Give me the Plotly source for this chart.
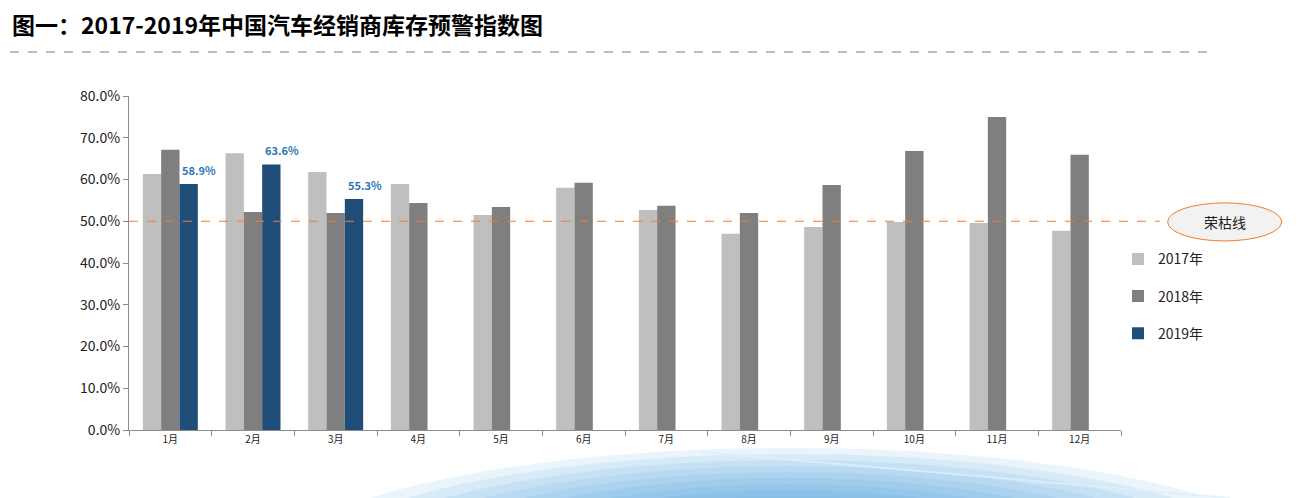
import plotly.graph_objects as go

months = ["1月", "2月", "3月", "4月", "5月", "6月", "7月", "8月", "9月", "10月", "11月", "12月"]
y2017 = [61.3, 66.3, 61.8, 58.9, 51.5, 58.0, 52.7, 47.0, 48.6, 49.8, 49.6, 47.7]
y2018 = [67.1, 52.2, 52.0, 54.4, 53.4, 59.2, 53.7, 52.0, 58.7, 66.8, 75.0, 65.9]
y2019 = [58.9, 63.6, 55.3, None, None, None, None, None, None, None, None, None]
threshold = 50.0

series = [
    ("2017年", y2017, "#BFBFBF"),
    ("2018年", y2018, "#7F7F7F"),
    ("2019年", y2019, "#1F4E79"),
]

FONT = "Noto Sans CJK SC"
fig = go.Figure()
for name, vals, color in series:
    fig.add_trace(go.Bar(
        x=months, y=[v / 100 if v is not None else None for v in vals],
        name=name, marker=dict(color=color, line=dict(width=0)),
        legendgroup=name,
    ))

# data labels for 2019
for m, v in zip(months, y2019):
    if v is not None:
        fig.add_annotation(x=m, y=v / 100, text=f"<b>{v:.1f}%</b>", showarrow=False,
                           xshift=29, yshift=14, font=dict(family=FONT, size=11, color="#2E75B6"))

# decorative soft blue glow at the bottom (page px -> paper coords)
def px_x(p):
    return (p - 129) / 992

def px_y(p):
    return (430 - p) / 334

glow_cx, glow_cy = 790, 570
for i in range(11):
    rx = 520 - i * 32
    ry = 122 - i * 6
    fig.add_shape(type="circle", xref="paper", yref="paper",
                  x0=px_x(glow_cx - rx), x1=px_x(glow_cx + rx),
                  y0=px_y(glow_cy + ry), y1=px_y(glow_cy - ry),
                  fillcolor="#4FA8E2", opacity=0.12, line=dict(width=0), layer="below")
fig.add_shape(type="line", xref="paper", yref="paper", x0=px_x(700), y0=px_y(452), x1=px_x(1230), y1=px_y(498),
              line=dict(color="#DDF0FD", width=2), opacity=0.8, layer="below")

# 荣枯线
fig.add_shape(type="line", xref="paper", yref="y", x0=0, x1=1.039, y0=threshold / 100, y1=threshold / 100,
              line=dict(color="#ED7D31", width=1.2, dash="dash"))
fig.add_shape(type="circle", xref="paper", yref="paper", x0=1.047, x1=1.162, y0=0.566, y1=0.680,
              fillcolor="#F2F2F2", line=dict(color="#ED7D31", width=1))
fig.add_annotation(xref="paper", yref="paper", x=1.1045, y=0.623, xanchor="center", yanchor="middle",
                   text="荣枯线", showarrow=False,
                   font=dict(family=FONT, size=14, color="#222222"))

# title and dashed divider
fig.add_annotation(xref="paper", yref="paper", x=-0.12, y=1.216, xanchor="left", yanchor="middle",
                   text="<b>图一：2017-2019年中国汽车经销商库存预警指数图</b>", showarrow=False,
                   font=dict(family=FONT, size=23, color="#000000"))
fig.add_shape(type="line", xref="paper", yref="paper", x0=-0.12, x1=1.095, y0=1.132, y1=1.132,
              line=dict(color="#A6A6A6", width=1.5, dash="dash"))

fig.update_layout(
    width=1297, height=490,
    margin=dict(l=121, r=184, t=88, b=68),
    paper_bgcolor="white", plot_bgcolor="rgba(0,0,0,0)",
    barmode="group", bargap=0.335, bargroupgap=0,
    font=dict(family=FONT, color="#222222"),
    showlegend=True,
    legend=dict(x=0.997, y=0.559, xanchor="left", yanchor="top", font=dict(family=FONT, size=14, color="#222222"),
                tracegroupgap=16, bgcolor="rgba(0,0,0,0)", itemwidth=30),
    xaxis=dict(type="category", showline=True, linecolor="#8C8C8C", linewidth=1, ticks="outside",
               tickson="boundaries", ticklen=5, tickcolor="#8C8C8C", showgrid=False,
               tickfont=dict(family=FONT, size=10, color="#222222")),
    yaxis=dict(range=[0, 0.8], dtick=0.1, tickformat=".1%", showline=True, linecolor="#8C8C8C",
               linewidth=1, ticks="outside", ticklen=5, tickcolor="#8C8C8C", showgrid=False,
               zeroline=False, tickfont=dict(family=FONT, size=14, color="#222222")),
)
fig.write_html("out.html")
